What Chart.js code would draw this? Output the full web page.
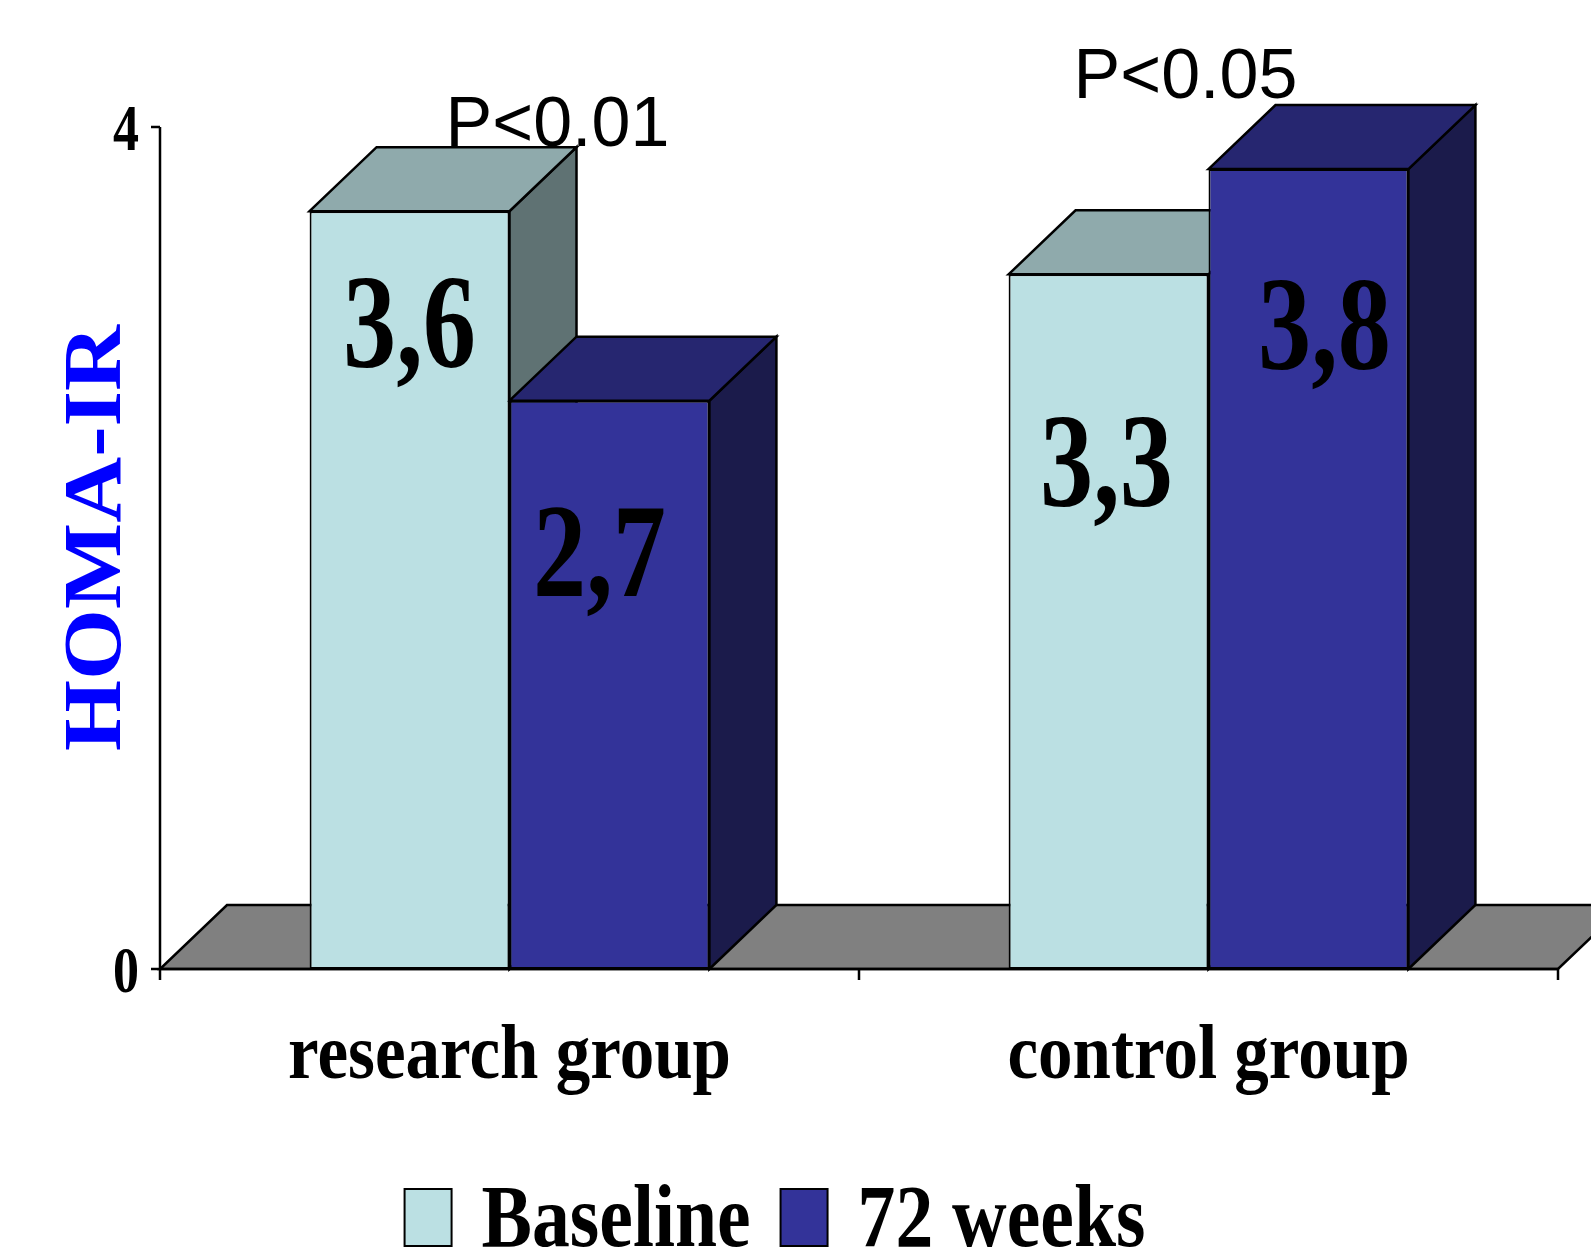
<!DOCTYPE html>
<html>
<head>
<meta charset="utf-8">
<script src="https://cdn.jsdelivr.net/npm/chart.js@4.4.1/dist/chart.umd.min.js"></script>
<style>
  body { margin: 0; background: #fff; }
  #wrap { width: 1591px; height: 1252px; }
</style>
</head>
<body>
<div id="wrap"><canvas id="homaChart" width="1591" height="1252"></canvas></div>
<script>
const categories = ["research group", "control group"];
const baselineValues = [3.6, 3.3];
const week72Values = [2.7, 3.8];
const seriesNames = ["Baseline", "72 weeks"];
const yTicks = [0, 4];
const pTexts = ["P<0.01", "P<0.05"];

const serif = "'Liberation Serif', 'Times New Roman', serif";
const sans = "'Liberation Sans', Arial, sans-serif";

// front / top / side colours of the 3D blocks
const faces = [
  { front: "#bbe0e3", top: "#8faaac", side: "#5f7273" },
  { front: "#333399", top: "#262670", side: "#1b1b4b" }
];
const depth = { dx: 67, dy: 64 };

function poly(ctx, pts, fill) {
  ctx.beginPath();
  ctx.moveTo(pts[0][0], pts[0][1]);
  for (let i = 1; i < pts.length; i++) ctx.lineTo(pts[i][0], pts[i][1]);
  ctx.closePath();
  ctx.fillStyle = fill;
  ctx.fill();
  ctx.stroke();
}

// the original text is squeezed sideways, so scale x when drawing it
function squeezed(ctx, text, x, y, font, sx, opts = {}) {
  ctx.save();
  ctx.font = font;
  ctx.fillStyle = opts.color || "#000";
  ctx.textAlign = opts.align || "center";
  ctx.textBaseline = "alphabetic";
  ctx.translate(x, y);
  if (opts.rotate) ctx.rotate(opts.rotate);
  ctx.scale(sx, 1);
  ctx.fillText(text, 0, 0);
  ctx.restore();
}

const bars3d = {
  id: "bars3d",
  beforeDatasetsDraw(chart, args, o) {
    const { ctx, chartArea: a, scales: { x, y } } = chart;
    const y0 = y.getPixelForValue(0);
    ctx.save();
    ctx.lineWidth = 2.5;
    ctx.strokeStyle = "#000";
    ctx.lineJoin = "miter";

    // grey floor
    poly(ctx, [[a.left, y0], [a.right, y0], [a.right + depth.dx, y0 - depth.dy], [a.left + depth.dx, y0 - depth.dy]], "#808080");

    // p-value notes (the bar tops overlap them a bit, like the original)
    pTexts.forEach((t, i) => {
      const p = o.pPos[i];
      ctx.font = "70px " + sans;
      ctx.fillStyle = "#000";
      ctx.textAlign = "center";
      ctx.textBaseline = "alphabetic";
      ctx.fillText(t, x.getPixelForValue(i) + p.dx, y.getPixelForValue(p.v));
    });

    // side and top faces, left to right
    const bars = [];
    chart.data.datasets.forEach((ds, i) => {
      chart.getDatasetMeta(i).data.forEach(b => bars.push({ b, f: faces[i] }));
    });
    bars.sort((p, q) => p.b.x - q.b.x);
    bars.forEach(({ b, f }) => {
      const l = b.x - b.width / 2, r = b.x + b.width / 2, t = b.y, bot = b.base;
      poly(ctx, [[r, t], [r + depth.dx, t - depth.dy], [r + depth.dx, bot - depth.dy], [r, bot]], f.side);
      poly(ctx, [[l, t], [l + depth.dx, t - depth.dy], [r + depth.dx, t - depth.dy], [r, t]], f.top);
    });
    ctx.restore();
  },
  afterDatasetsDraw(chart, args, o) {
    const { ctx, chartArea: a, scales: { x, y } } = chart;
    const y0 = y.getPixelForValue(0);

    // values inside the bars
    chart.data.datasets.forEach((ds, i) => {
      chart.getDatasetMeta(i).data.forEach((b, j) => {
        const v = ds.data[j];
        const txt = v.toFixed(1).replace(".", ",");
        squeezed(ctx, txt, b.x + o.labelShift[i][j], y.getPixelForValue(v - o.labelDrop[i][j]), "bold 133px " + serif, 0.8);
      });
    });

    ctx.save();
    ctx.lineWidth = 2.5;
    ctx.strokeStyle = "#000";
    // axes
    ctx.beginPath();
    ctx.moveTo(a.left, y.getPixelForValue(yTicks[yTicks.length - 1]));
    ctx.lineTo(a.left, y0);
    ctx.lineTo(a.right, y0);
    yTicks.forEach(v => {
      const py = y.getPixelForValue(v);
      ctx.moveTo(a.left - 9, py);
      ctx.lineTo(a.left, py);
    });
    const half = (x.getPixelForValue(1) - x.getPixelForValue(0)) / 2;
    [x.getPixelForValue(0) - half, x.getPixelForValue(0) + half, x.getPixelForValue(1) + half].forEach(px => {
      ctx.moveTo(px, y0);
      ctx.lineTo(px, y0 + 11);
    });
    ctx.stroke();
    ctx.restore();

    yTicks.forEach(v => {
      squeezed(ctx, String(v), a.left - 21, y.getPixelForValue(v) + 23, "bold 65px " + serif, 0.8, { align: "right" });
    });
    categories.forEach((c, i) => {
      squeezed(ctx, c, x.getPixelForValue(i), 1078, "bold 78px " + serif, 0.885);
    });
    squeezed(ctx, "HOMA-IR", 93 + 27, 538, "bold 83px " + serif, 1.1, { color: "#0000ff", rotate: -Math.PI / 2 });

    // legend
    ctx.save();
    const font = "bold 89px " + serif;
    ctx.font = font;
    const sx = 0.85, box = 47, gap = 30;
    const widths = seriesNames.map(s => ctx.measureText(s).width * sx);
    const total = widths.reduce((s, w) => s + box + gap + w, 0) + gap;
    let lx = 775 - total / 2;
    seriesNames.forEach((s, i) => {
      ctx.lineWidth = 2;
      ctx.strokeStyle = "#000";
      ctx.fillStyle = faces[i].front;
      ctx.fillRect(lx, 1189, box, 57);
      ctx.strokeRect(lx, 1189, box, 57);
      squeezed(ctx, s, lx + box + gap, 1246, font, sx, { align: "left" });
      lx += box + gap + widths[i] + gap;
    });
    ctx.restore();
  }
};

const ctx = document.getElementById("homaChart").getContext("2d");

const homaChart = new Chart(ctx, {
  type: "bar",
  data: {
    labels: categories,
    datasets: [baselineValues, week72Values].map((vals, i) => ({
      label: seriesNames[i],
      data: vals,
      backgroundColor: faces[i].front,
      borderColor: "#000",
      borderWidth: 2,
      borderSkipped: false,
      categoryPercentage: 0.572,
      barPercentage: 1
    }))
  },
  options: {
    responsive: false,
    animation: false,
    devicePixelRatio: 1,
    layout: { padding: { left: 160, right: 33, top: 127, bottom: 283 } },
    scales: {
      x: { display: false, offset: true },
      y: { display: false, min: 0, max: 4 }
    },
    plugins: {
      legend: { display: false },
      tooltip: { enabled: false },
      bars3d: {
        pPos: [{ dx: 48, v: 3.91 }, { dx: -23, v: 4.14 }],
        labelDrop: [[0.74, 1.1], [0.93, 0.95]],
        labelShift: [[0, -2], [-10, 16]]
      }
    }
  },
  plugins: [bars3d]
});
</script>
</body>
</html>
